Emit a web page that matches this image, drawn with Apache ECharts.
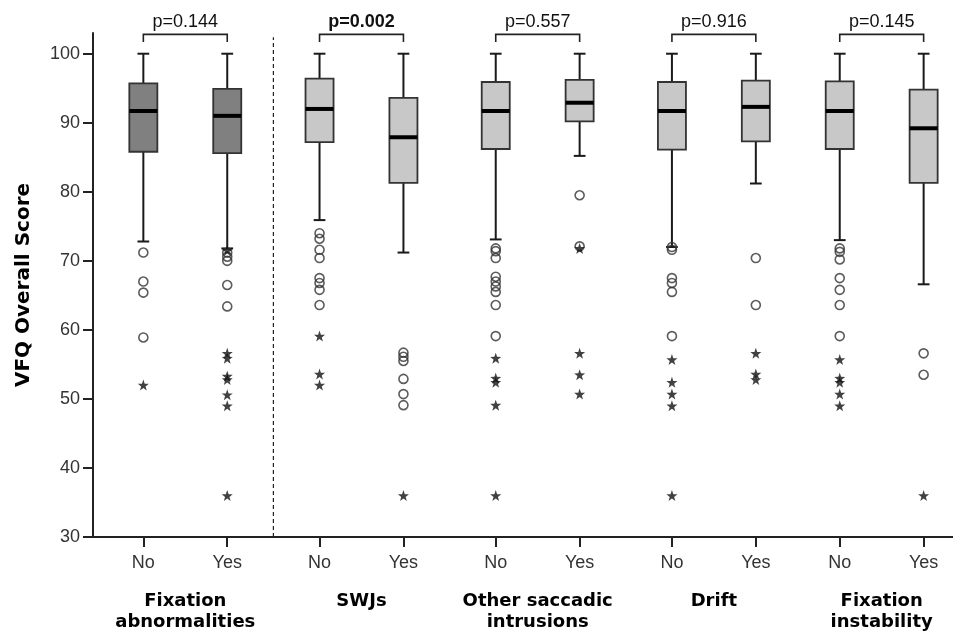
<!DOCTYPE html>
<html>
<head>
<meta charset="utf-8">
<script src="https://cdn.jsdelivr.net/npm/echarts@6/dist/echarts.min.js"></script>
<style>
  html, body { margin: 0; padding: 0; background: #fff; }
  #chart { width: 953px; height: 637px; }
</style>
</head>
<body>
<div id="chart"></div>
<script>
// categories
var groupNames = ['Fixation\nabnormalities', 'SWJs', 'Other saccadic\nintrusions', 'Drift', 'Fixation\ninstability'];
var subLabels = ['No', 'Yes', 'No', 'Yes', 'No', 'Yes', 'No', 'Yes', 'No', 'Yes'];
var xPos = [0.6, 1.6, 2.7, 3.7, 4.8, 5.8, 6.9, 7.9, 8.9, 9.9];
var groupPos = [1.1, 3.2, 5.3, 7.4, 9.4];
var yTicks = [30, 40, 50, 60, 70, 80, 90, 100];

// [whisker low, Q1, median, Q3, whisker high]
var boxStats = [
    [72.8, 85.8, 91.7, 95.7, 100],
    [71.8, 85.6, 91.0, 94.9, 100],
    [75.9, 87.2, 92.0, 96.4, 100],
    [71.2, 81.3, 87.9, 93.6, 100],
    [73.1, 86.2, 91.7, 95.9, 100],
    [85.2, 90.2, 92.9, 96.2, 100],
    [72.0, 86.1, 91.7, 95.9, 100],
    [81.2, 87.3, 92.3, 96.1, 100],
    [73.0, 86.2, 91.7, 96.0, 100],
    [66.6, 81.3, 89.2, 94.8, 100]
];
var darkBox = [1, 1, 0, 0, 0, 0, 0, 0, 0, 0];

// outliers (circles) and extremes (stars)
var circleOutliers = [
    [71.2, 67.0, 65.4, 58.9],
    [71.2, 70.6, 70.0, 66.5, 63.4],
    [74.0, 73.2, 71.6, 70.4, 67.5, 66.8, 65.8, 63.6],
    [56.7, 56.1, 55.5, 52.9, 50.7, 49.1],
    [71.8, 71.4, 70.4, 67.7, 67.0, 66.3, 65.5, 63.6, 59.1],
    [79.5, 72.1],
    [72.0, 71.6, 67.5, 66.8, 65.5, 59.1],
    [70.4, 63.6],
    [71.8, 71.3, 70.2, 67.5, 65.8, 63.6, 59.1],
    [56.6, 53.5]
];
var starOutliers = [
    [52.0],
    [71.5, 56.6, 55.9, 53.3, 52.8, 50.6, 49.0, 36.0],
    [59.1, 53.6, 52.0],
    [36.0],
    [55.9, 53.0, 52.4, 49.1, 36.0],
    [71.8, 56.6, 53.5, 50.7],
    [55.7, 52.4, 50.7, 49.0, 36.0],
    [56.6, 53.6, 52.8],
    [55.7, 53.0, 52.4, 50.7, 49.0],
    [36.0]
];

var pValues = ['p=0.144', 'p=0.002', 'p=0.557', 'p=0.916', 'p=0.145'];
var pBold = [0, 1, 0, 0, 0];
var dividerAt = 2.15;

var starPath = 'path://M50,0L61.8,33.8L97.6,34.5L69,56.2L79.4,90.5L50,70L20.6,90.5L31,56.2L2.4,34.5L38.2,33.8Z';
var sans = '"Liberation Sans", Arial, sans-serif';
var boldSans = '"DejaVu Sans", Verdana, sans-serif';

var boxData = boxStats.map(function (s, i) {
    return [xPos[i]].concat(s).concat([darkBox[i]]);
});
var circleData = [], starData = [];
circleOutliers.forEach(function (arr, i) {
    arr.forEach(function (v) { circleData.push([xPos[i], v]); });
});
starOutliers.forEach(function (arr, i) {
    arr.forEach(function (v) { starData.push([xPos[i], v]); });
});
var bracketData = pValues.map(function (p, i) {
    return [xPos[2 * i], xPos[2 * i + 1], i];
});

function renderBox(params, api) {
    var x = api.value(0);
    var lo = api.coord([x, api.value(1)]);
    var q1 = api.coord([x, api.value(2)]);
    var med = api.coord([x, api.value(3)]);
    var q3 = api.coord([x, api.value(4)]);
    var hi = api.coord([x, api.value(5)]);
    var halfW = api.size([0.334, 0])[0] / 2;
    var capW = api.size([0.14, 0])[0] / 2;
    var fill = api.value(6) ? '#808080' : '#c8c8c8';
    var cx = lo[0];
    var line = { stroke: '#1a1a1a', lineWidth: 2 };
    return {
        type: 'group',
        children: [
            { type: 'line', shape: { x1: cx, y1: hi[1], x2: cx, y2: q3[1] }, style: line },
            { type: 'line', shape: { x1: cx, y1: q1[1], x2: cx, y2: lo[1] }, style: line },
            { type: 'line', shape: { x1: cx - capW, y1: hi[1], x2: cx + capW, y2: hi[1] }, style: line },
            { type: 'line', shape: { x1: cx - capW, y1: lo[1], x2: cx + capW, y2: lo[1] }, style: line },
            { type: 'rect', shape: { x: cx - halfW, y: q3[1], width: halfW * 2, height: q1[1] - q3[1] },
              style: { fill: fill, stroke: '#333', lineWidth: 1.8 } },
            { type: 'line', shape: { x1: cx - halfW, y1: med[1], x2: cx + halfW, y2: med[1] },
              style: { stroke: '#000', lineWidth: 4 } }
        ]
    };
}

function renderBracket(params, api) {
    var x1 = api.value(0), x2 = api.value(1), idx = api.value(2);
    var a = api.coord([x1, 101.7]);
    var b = api.coord([x1, 102.8]);
    var c = api.coord([x2, 102.8]);
    var d = api.coord([x2, 101.7]);
    var t = api.coord([(x1 + x2) / 2, 104.6]);
    return {
        type: 'group',
        children: [
            { type: 'polyline', shape: { points: [a, b, c, d] },
              style: { stroke: '#222', lineWidth: 1.6, fill: null } },
            { type: 'text', style: {
                text: pValues[idx], x: t[0], y: t[1], align: 'center', verticalAlign: 'middle',
                fontSize: 18, fontFamily: sans, fontWeight: pBold[idx] ? 'bold' : 'normal', fill: '#111'
            } }
        ]
    };
}

function renderDivider(params, api) {
    var x = api.value(0);
    var p0 = api.coord([x, 30]);
    var p1 = api.coord([x, 102.4]);
    return { type: 'line', shape: { x1: p0[0], y1: p0[1], x2: p1[0], y2: p1[1] },
             style: { stroke: '#222', lineWidth: 1.2, lineDash: [4, 3] } };
}

var chart = echarts.init(document.getElementById('chart'));
chart.setOption({
    animation: false,
    backgroundColor: '#fff',
    grid: { left: 93, right: 0, top: 33, bottom: 100 },
    xAxis: [{
        type: 'value', min: 0, max: 10.25,
        splitLine: { show: false },
        axisLine: { lineStyle: { color: '#222', width: 2 } },
        axisTick: { show: true, length: 10, customValues: xPos, lineStyle: { color: '#222', width: 2 } },
        axisLabel: {
            customValues: xPos, margin: 17, fontSize: 18, fontFamily: sans, color: '#333',
            formatter: function (v) {
                for (var i = 0; i < xPos.length; i++) {
                    if (Math.abs(xPos[i] - v) < 1e-6) return subLabels[i];
                }
                return '';
            }
        }
    }, {
        type: 'value', min: 0, max: 10.25, position: 'bottom',
        splitLine: { show: false },
        axisLine: { show: false },
        axisTick: { show: false },
        axisLabel: {
            customValues: groupPos, margin: 54, fontSize: 18, fontFamily: boldSans,
            fontWeight: 'bold', color: '#000', lineHeight: 21, align: 'center',
            formatter: function (v) {
                for (var i = 0; i < groupPos.length; i++) {
                    if (Math.abs(groupPos[i] - v) < 1e-6) return groupNames[i];
                }
                return '';
            }
        }
    }],
    yAxis: {
        type: 'value', min: 30, max: 103,
        name: 'VFQ Overall Score', nameLocation: 'middle', nameRotate: 90, nameGap: 59,
        nameTextStyle: { fontSize: 20, fontWeight: 'bold', fontFamily: boldSans, color: '#000' },
        splitLine: { show: false },
        axisLine: { show: true, lineStyle: { color: '#222', width: 2 } },
        axisTick: { show: true, length: 10, customValues: yTicks, lineStyle: { color: '#222', width: 2 } },
        axisLabel: { customValues: yTicks, margin: 13, fontSize: 18, fontFamily: sans, color: '#333' }
    },
    series: [{
        type: 'custom', clip: false, silent: true, z: 2,
        renderItem: renderDivider, data: [[dividerAt]]
    }, {
        type: 'custom', silent: true, z: 3,
        renderItem: renderBox, data: boxData,
        encode: { x: 0, y: [1, 2, 3, 4, 5] }
    }, {
        type: 'scatter', silent: true, z: 4,
        symbol: 'circle', symbolSize: 9,
        itemStyle: { color: 'rgba(0,0,0,0)', borderColor: '#333', borderWidth: 1.6 },
        data: circleData
    }, {
        type: 'scatter', silent: true, z: 4,
        symbol: starPath, symbolSize: 11,
        itemStyle: { color: '#111' },
        data: starData
    }, {
        type: 'custom', clip: false, silent: true, z: 5,
        renderItem: renderBracket, data: bracketData,
        encode: { x: [0, 1] }
    }]
});
</script>
</body>
</html>
